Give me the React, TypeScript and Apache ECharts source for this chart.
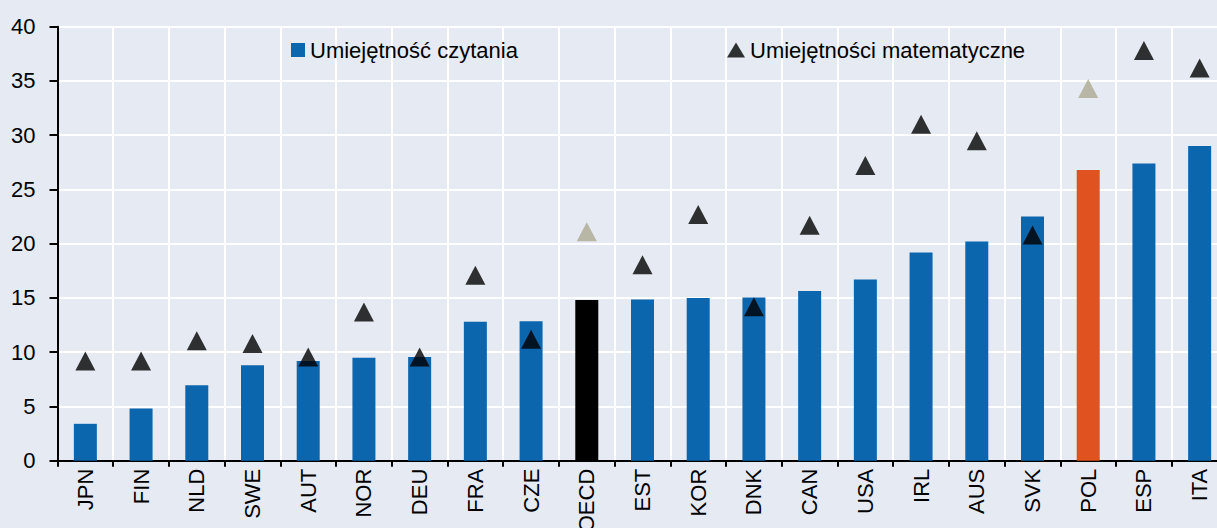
import React, { useEffect, useRef } from "react";
import * as echarts from "echarts";

const categories = ["JPN", "FIN", "NLD", "SWE", "AUT", "NOR", "DEU", "FRA", "CZE", "OECD", "EST", "KOR", "DNK", "CAN", "USA", "IRL", "AUS", "SVK", "POL", "ESP", "ITA"];
const readingValues = [3.4, 4.8, 6.95, 8.8, 9.2, 9.5, 9.55, 12.8, 12.85, 14.8, 14.85, 15.0, 15.05, 15.65, 16.7, 19.2, 20.2, 22.5, 26.8, 27.4, 29.0];
const mathValues = [9.2, 9.2, 11.05, 10.8, 9.55, 13.7, 9.55, 17.1, 11.2, 21.1, 18.05, 22.7, 14.2, 21.7, 27.2, 31.0, 29.5, 20.8, 34.3, 37.8, 36.2];
const yTicks = { min: 0, max: 40, interval: 5 };
const seriesNames = ["Umiejętność czytania", "Umiejętności matematyczne"];

const BLUE = "#0C66AE";
const ORANGE = "#E0521F";
const BLACK = "#000000";
const TAN = "#ADA991";
const BG = "#E5EAF3";

export default function App() {
  const ref = useRef<HTMLDivElement>(null);
  useEffect(() => {
    if (!ref.current) return;
    const chart = echarts.init(ref.current, null, { renderer: "svg" });
    const barData = readingValues.map((v, i) => {
      const c = categories[i];
      const color = c === "OECD" ? BLACK : c === "POL" ? ORANGE : BLUE;
      return { value: v, itemStyle: { color } };
    });
    const triData = mathValues.map((v, i) => {
      const c = categories[i];
      const color = c === "OECD" || c === "POL" ? TAN : BLACK;
      return { value: v, itemStyle: { color } };
    });
    const font = "Arial, 'Liberation Sans', sans-serif";
    chart.setOption({
      animation: false,
      backgroundColor: BG,
      textStyle: { fontFamily: font },
      legend: [
        {
          data: [{ name: seriesNames[0], icon: "rect" }],
          left: 286,
          top: 34,
          itemWidth: 14,
          itemHeight: 14,
          itemGap: 6,
          textStyle: { fontSize: 22, color: "#000", fontFamily: font },
          selectedMode: false,
        },
        {
          data: [{ name: seriesNames[1], icon: "triangle" }],
          left: 722,
          top: 34,
          itemWidth: 18,
          itemHeight: 15,
          textStyle: { fontSize: 22, color: "#000", fontFamily: font },
          selectedMode: false,
        },
      ],
      grid: {
        left: 57.5,
        top: 26.7,
        width: 1170,
        height: 434,
        containLabel: false,
        outerBoundsMode: "none",
      },
      xAxis: {
        type: "category",
        data: categories,
        boundaryGap: true,
        axisLine: { show: true, lineStyle: { color: "#000", width: 2 } },
        axisTick: { show: true, alignWithLabel: false, length: 6, lineStyle: { color: "#000", width: 2 } },
        axisLabel: { rotate: 90, fontSize: 22, color: "#000", margin: 8, fontFamily: font, interval: 0 },
        splitLine: { show: true, lineStyle: { color: "#ffffff", width: 2 } },
      },
      yAxis: {
        type: "value",
        min: yTicks.min,
        max: yTicks.max,
        interval: yTicks.interval,
        axisLine: { show: true, lineStyle: { color: "#000", width: 2 } },
        axisTick: { show: true, length: 8, lineStyle: { color: "#000", width: 2 } },
        axisLabel: { fontSize: 22, color: "#000", margin: 22, fontFamily: font },
        splitLine: { show: true, lineStyle: { color: "#ffffff", width: 2 } },
      },
      series: [
        {
          name: seriesNames[0],
          type: "bar",
          data: barData,
          barWidth: 23,
          itemStyle: { color: BLUE },
          z: 2,
        },
        {
          name: seriesNames[1],
          type: "scatter",
          data: triData,
          symbol: "triangle",
          symbolSize: [20, 19],
          itemStyle: { color: BLACK },
          z: 3,
        },
      ],
    });
    return () => chart.dispose();
  }, []);
  return (
    <div
      ref={ref}
      style={{ position: "absolute", left: 0, top: 0, width: 1217, height: 528 }}
    />
  );
}
